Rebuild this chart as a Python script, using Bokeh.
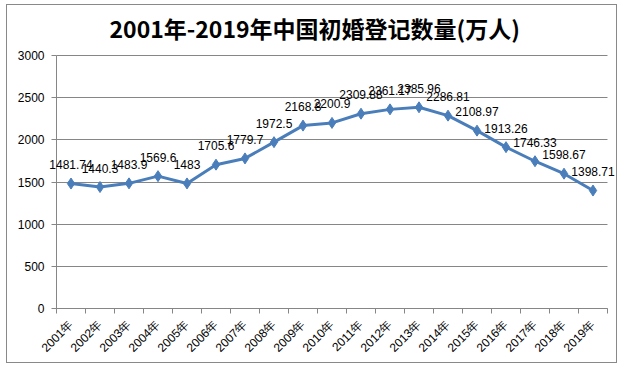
from math import pi
from bokeh.plotting import figure
from bokeh.models import ColumnDataSource, Range1d, FixedTicker, LabelSet, Grid
from bokeh.core.properties import value
from bokeh.embed import file_html
from bokeh.resources import INLINE

years = ["2001年", "2002年", "2003年", "2004年", "2005年", "2006年", "2007年",
         "2008年", "2009年", "2010年", "2011年", "2012年", "2013年", "2014年",
         "2015年", "2016年", "2017年", "2018年", "2019年"]
marriages = [1481.74, 1440.3, 1483.9, 1569.6, 1483, 1705.6, 1779.7, 1972.5,
             2168.8, 2200.9, 2309.88, 2361.17, 2385.96, 2286.81, 2108.97,
             1913.26, 1746.33, 1598.67, 1398.71]
y_ticks = [0, 500, 1000, 1500, 2000, 2500, 3000]
title_text = "2001年-2019年中国初婚登记数量(万人)"

n = len(years)
idx = list(range(n))
src = ColumnDataSource(dict(x=idx, y=marriages,
                            lab=[f"{v:g}" for v in marriages]))

# The frame is widened so that data labels and axis labels are not clipped;
# the axes and grid keep to the category extent and to 0..3000.
xpx = 29.0                  # pixels per category
ypu = 3000 / 253.0          # data units per pixel (vertical)
lo, hi = -0.5, n - 0.5
ymin, ymax = y_ticks[0], y_ticks[-1]
p = figure(width=611, height=359, output_backend="svg", toolbar_location=None,
           x_range=Range1d(lo - 48 / xpx, hi + 10 / xpx),
           y_range=Range1d(ymin - 55 * ypu, ymax + 8 * ypu),
           min_border_left=1, min_border_right=1, min_border_top=42,
           min_border_bottom=1)
p.styles = {"border": "1px solid #898989", "position": "absolute",
            "left": "6px", "top": "4px"}
p.outline_line_color = None

p.title.text = title_text
p.title.align = "left"
p.title.text_font = "Noto Sans CJK SC"
p.title.text_font_style = "bold"
p.title.text_font_size = "23px"
p.title.text_color = "#000000"
p.title.offset = 101
p.title.standoff = 5

# grid
p.xgrid.grid_line_color = None
p.ygrid.ticker = FixedTicker(ticks=y_ticks)
p.ygrid.grid_line_color = "#868686"
p.ygrid.grid_line_width = 1
if "cross_bounds" in Grid.properties():
    p.ygrid.cross_bounds = (lo, hi)
else:
    p.ygrid.grid_line_color = None
    p.segment(x0=[lo] * len(y_ticks), x1=[hi] * len(y_ticks), y0=y_ticks,
              y1=y_ticks, line_color="#868686", line_width=1)

# y axis, pinned at the left edge of the categories
p.yaxis.fixed_location = lo
p.yaxis.bounds = (ymin, ymax)
p.yaxis.ticker = FixedTicker(ticks=y_ticks)
p.yaxis.axis_line_color = "#868686"
p.yaxis.major_tick_line_color = "#868686"
p.yaxis.major_tick_out = 5
p.yaxis.major_tick_in = 0
p.yaxis.minor_tick_line_color = None
p.yaxis.major_label_standoff = 7
p.yaxis.major_label_text_font = "Liberation Sans"
p.yaxis.major_label_text_font_size = "12px"
p.yaxis.major_label_text_color = "#000000"

# x axis, pinned at y = 0
bounds = [i - 0.5 for i in range(n + 1)]
p.xaxis.fixed_location = ymin
p.xaxis.bounds = (lo, hi)
p.xaxis.ticker = FixedTicker(ticks=idx, minor_ticks=bounds)
p.xaxis.major_label_overrides = {i: y for i, y in zip(idx, years)}
p.xaxis.major_label_orientation = pi / 4
p.xaxis.axis_line_color = "#868686"
p.xaxis.major_tick_line_color = None
p.xaxis.minor_tick_line_color = "#868686"
p.xaxis.minor_tick_out = 5
p.xaxis.minor_tick_in = 0
p.xaxis.major_label_standoff = 8
p.xaxis.major_label_text_font = "Liberation Sans"
p.xaxis.major_label_text_font_size = "12px"
p.xaxis.major_label_text_color = "#000000"

# series
p.line("x", "y", source=src, line_color="#4a7ebb", line_width=3)
p.scatter("x", "y", source=src, marker="diamond", size=11,
          fill_color="#4a7ebb", line_color="#4a7ebb")
p.add_layout(LabelSet(x="x", y="y", text="lab", source=src,
                      text_align="center", text_baseline="middle",
                      y_offset=19, text_font=value("Liberation Sans"),
                      text_font_size=value("12px"), text_color="#000000"))

open("out.html", "w").write(file_html(p, INLINE))
